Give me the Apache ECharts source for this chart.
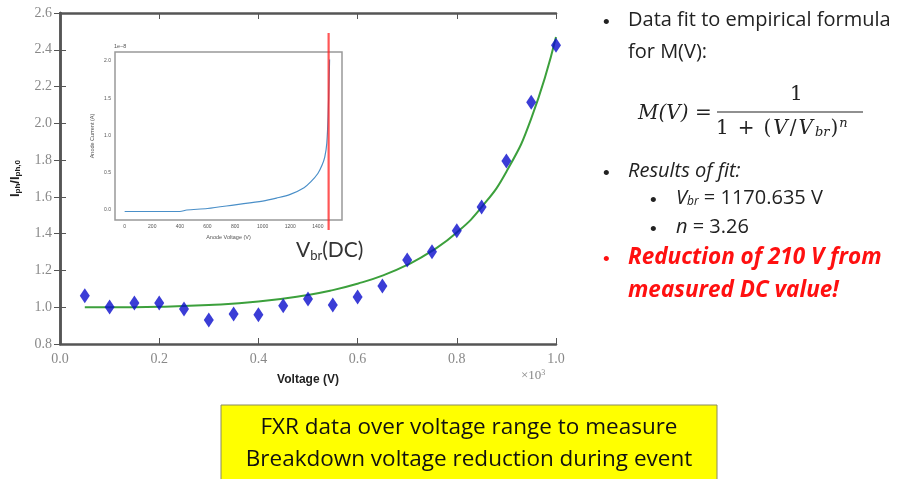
<!DOCTYPE html>
<html lang="en">
<head>
<meta charset="UTF-8">
<title>FXR breakdown voltage fit</title>
<script src="https://cdn.jsdelivr.net/npm/echarts@6/dist/echarts.min.js"></script>
<style>
    html, body { margin: 0; padding: 0; background: #fff; }
    #container { width: 907px; height: 479px; }
</style>
</head>
<body>
<div id="container"></div>
<script>
    // main plot: voltage in kV, normalised photocurrent
    var voltage = [0.05, 0.10, 0.15, 0.20, 0.25, 0.30, 0.35, 0.40, 0.45, 0.50,
                   0.55, 0.60, 0.65, 0.70, 0.75, 0.80, 0.85, 0.90, 0.95, 1.00];
    var ratio = [1.062, 1.001, 1.023, 1.023, 0.990, 0.930, 0.963, 0.959, 1.008, 1.045,
                 1.012, 1.055, 1.115, 1.257, 1.302, 1.416, 1.545, 1.795, 2.115, 2.425];

    // fitted curve
    var fitV = [0.05, 0.10, 0.20, 0.30, 0.40, 0.50, 0.55, 0.60, 0.65, 0.70,
                0.75, 0.80, 0.85, 0.90, 0.95, 1.00];
    var fitM = [1.000, 1.000, 1.003, 1.012, 1.031, 1.067, 1.093, 1.128, 1.172, 1.230,
                1.306, 1.406, 1.544, 1.737, 2.026, 2.470];

    // inset: anode current (x1e-8 A) vs anode voltage (V)
    var insetV = [0, 200, 400, 450, 600, 800, 1000, 1100, 1200, 1300,
                  1350, 1400, 1430, 1450, 1465, 1475, 1485];
    var insetI = [-0.02, -0.02, -0.02, 0.00, 0.02, 0.07, 0.12, 0.16, 0.21, 0.30,
                  0.38, 0.49, 0.60, 0.71, 0.90, 1.30, 2.02];
    var vbrDC = 1478;

    var insetXTicks = [0, 200, 400, 600, 800, 1000, 1200, 1400];
    var insetYTicks = [0, 0.5, 1.0, 1.5, 2.0];

    var mainData = voltage.map(function (v, i) { return [v, ratio[i]]; });
    var fitData = fitV.map(function (v, i) { return [v, fitM[i]]; });
    var insetData = insetV.map(function (v, i) { return [v, insetI[i]]; });

    var frame = { lineStyle: { color: '#555', width: 2.5 } };
    var serif = 'Liberation Serif';
    var math = 'DejaVu Serif';
    var sans = 'Open Sans';
    var bulletFont = '19px "Liberation Sans"';

    var dom = document.getElementById('container');
    var myChart = echarts.init(dom, null, { renderer: 'canvas' });

    var option = {
        animation: false,
        backgroundColor: '#fff',
        grid: [
            { left: 60, right: 351, top: 13, bottom: 135 },
            { left: 115, right: 565, top: 52, bottom: 259, show: true,
              backgroundColor: '#fff', borderColor: '#999', borderWidth: 1.5, z: 3 },
            { left: 115, right: 565, top: 33, bottom: 249, z: 5 }
        ],
        xAxis: [
            {
                gridIndex: 0, type: 'value', min: 0, max: 1, interval: 0.2,
                axisLine: frame,
                axisTick: { inside: true, length: 6, lineStyle: { color: '#555' } },
                axisLabel: { color: '#888', fontFamily: serif, fontSize: 14, margin: 8,
                    formatter: function (v) { return v.toFixed(1); } },
                splitLine: { show: false },
                name: 'Voltage (V)', nameLocation: 'middle', nameGap: 30,
                nameTextStyle: { fontFamily: 'Liberation Sans', fontWeight: 'bold', fontSize: 12, color: '#222' }
            },
            {
                gridIndex: 0, type: 'value', position: 'top', min: 0, max: 1, interval: 0.2,
                axisLine: frame,
                axisTick: { inside: true, length: 6, lineStyle: { color: '#555' } },
                axisLabel: { show: false }, splitLine: { show: false }
            },
            {
                gridIndex: 1, type: 'value', min: -70, max: 1575,
                axisLine: { show: false },
                axisTick: { length: 3, lineStyle: { color: '#777' }, customValues: insetXTicks },
                axisLabel: { color: '#555', fontSize: 5, margin: 4, customValues: insetXTicks,
                    formatter: function (v) { return String(v); } },
                splitLine: { show: false },
                name: 'Anode Voltage (V)', nameLocation: 'middle', nameGap: 14,
                nameTextStyle: { fontSize: 5.5, color: '#555' }
            },
            {
                gridIndex: 2, type: 'value', min: -70, max: 1575, show: false
            }
        ],
        yAxis: [
            {
                gridIndex: 0, type: 'value', min: 0.8, max: 2.6, interval: 0.2,
                axisLine: frame,
                axisTick: { inside: true, length: 6, lineStyle: { color: '#555' } },
                axisLabel: { color: '#888', fontFamily: serif, fontSize: 14, margin: 8,
                    formatter: function (v) { return v.toFixed(1); } },
                splitLine: { show: false },
                name: '{b|I}{s|ph}{b|/I}{s|ph,0}', nameLocation: 'middle', nameGap: 38, nameRotate: 90,
                nameTextStyle: {
                    rich: {
                        b: { fontFamily: 'Liberation Sans', fontWeight: 'bold', fontSize: 13, color: '#222' },
                        s: { fontFamily: 'Liberation Sans', fontWeight: 'bold', fontSize: 8, color: '#222', verticalAlign: 'bottom', padding: [6, 0, 0, 0] }
                    }
                }
            },
            {
                gridIndex: 0, type: 'value', position: 'right', min: 0.8, max: 2.6, interval: 0.2,
                axisLine: frame,
                axisTick: { inside: true, length: 6, lineStyle: { color: '#555' } },
                axisLabel: { show: false }, splitLine: { show: false }
            },
            {
                gridIndex: 1, type: 'value', min: -0.134, max: 2.12,
                axisLine: { show: false },
                axisTick: { length: 3, lineStyle: { color: '#777' }, customValues: insetYTicks },
                axisLabel: { color: '#555', fontSize: 5, margin: 4, customValues: insetYTicks,
                    formatter: function (v) { return v.toFixed(1); } },
                splitLine: { show: false },
                name: 'Anode Current (A)', nameLocation: 'middle', nameGap: 20, nameRotate: 90,
                nameTextStyle: { fontSize: 5.5, color: '#555' }
            },
            {
                gridIndex: 2, type: 'value', min: 0, max: 1, show: false
            }
        ],
        series: [
            {
                type: 'line', xAxisIndex: 0, yAxisIndex: 0, data: fitData,
                smooth: true, showSymbol: false, z: 2,
                lineStyle: { color: '#3ca03c', width: 2 }
            },
            {
                type: 'scatter', xAxisIndex: 0, yAxisIndex: 0, data: mainData,
                symbol: 'diamond', symbolSize: [10, 15], z: 3,
                itemStyle: { color: '#0a0ccc' }
            },
            {
                type: 'line', xAxisIndex: 2, yAxisIndex: 2, data: insetData,
                smooth: 0.3, showSymbol: false, z: 4,
                lineStyle: { color: '#4a8fc8', width: 1.2 }
            },
            {
                type: 'line', xAxisIndex: 3, yAxisIndex: 3, data: [[vbrDC, 0], [vbrDC, 1]],
                showSymbol: false, z: 6,
                lineStyle: { color: 'rgba(255,30,30,0.75)', width: 2.2 }
            }
        ],
        graphic: [
            // annotations on the plot
            { type: 'text', left: 114, top: 43, z: 10,
              style: { text: '1e\u22128', fontSize: 5.5, fill: '#555' } },
            { type: 'text', left: 521, top: 369, z: 10,
              style: { text: '\u00d710{p|3}', font: '13px "Liberation Serif"', fill: '#888',
                       rich: { p: { fontSize: 8, fontFamily: serif, fill: '#888', verticalAlign: 'top' } } } },
            { type: 'text', left: 296, top: 240, z: 10,
              style: { text: '{a|V}{s|br}{a|(DC)}', rich: {
                  a: { fontFamily: 'Lato', fontSize: 21, fill: '#333' },
                  s: { fontFamily: 'Lato', fontSize: 13, fill: '#333', padding: [10, 0, 0, 0] } } } },

            // right-hand notes
            { type: 'text', left: 603, top: 13, style: { text: '\u2022', font: bulletFont, fill: '#222' } },
            { type: 'text', left: 628, top: 10, style: { text: 'Data fit to empirical formula', font: '20px "Open Sans"', fill: '#222' } },
            { type: 'text', left: 628, top: 42, style: { text: 'for M(V):', font: '20px "Open Sans"', fill: '#222' } },

            { type: 'text', left: 638, top: 104, style: { text: 'M(V) =', font: 'italic 20px "DejaVu Serif"', fill: '#222' } },
            { type: 'text', left: 790, top: 85, style: { text: '1', font: '20px "DejaVu Serif"', fill: '#222' } },
            { type: 'line', shape: { x1: 717, y1: 112, x2: 863, y2: 112 }, style: { stroke: '#222', lineWidth: 1.2 } },
            { type: 'text', left: 716, top: 117, style: { text: '{r|1}{o|+}{r|(}{i|V}{r|/}{i|V}{s|br}{r|)}{p|n}', rich: {
                  r: { fontFamily: math, fontSize: 20, fill: '#222' },
                  o: { fontFamily: math, fontSize: 20, fill: '#222', padding: [0, 9, 0, 9] },
                  i: { fontFamily: math, fontStyle: 'italic', fontSize: 20, fill: '#222', padding: [0, 2, 0, 2] },
                  s: { fontFamily: math, fontStyle: 'italic', fontSize: 13, fill: '#222', padding: [9, 1, 0, 0] },
                  p: { fontFamily: math, fontStyle: 'italic', fontSize: 13, fill: '#222', padding: [0, 0, 10, 1] } } } },

            { type: 'text', left: 603, top: 164, style: { text: '\u2022', font: bulletFont, fill: '#222' } },
            { type: 'text', left: 628, top: 161, style: { text: 'Results of fit:', font: 'italic 20px "Open Sans"', fill: '#222' } },
            { type: 'text', left: 650, top: 191, style: { text: '\u2022', font: bulletFont, fill: '#222' } },
            { type: 'text', left: 676, top: 188, style: { text: '{i|V}{s|br}{r| = 1170.635 V}', rich: {
                  i: { fontFamily: sans, fontStyle: 'italic', fontSize: 20, fill: '#222' },
                  s: { fontFamily: sans, fontStyle: 'italic', fontSize: 12, fill: '#222', padding: [8, 0, 0, 0] },
                  r: { fontFamily: sans, fontSize: 20, fill: '#222' } } } },
            { type: 'text', left: 650, top: 220, style: { text: '\u2022', font: bulletFont, fill: '#222' } },
            { type: 'text', left: 676, top: 217, style: { text: '{i|n}{r| = 3.26}', rich: {
                  i: { fontFamily: sans, fontStyle: 'italic', fontSize: 20, fill: '#222' },
                  r: { fontFamily: sans, fontSize: 20, fill: '#222' } } } },
            { type: 'text', left: 603, top: 250, style: { text: '\u2022', font: bulletFont, fill: '#ff1010' } },
            { type: 'text', left: 628, top: 246, style: { text: 'Reduction of 210 V from', font: 'italic bold 22.5px "Open Sans"', fill: '#ff1010' } },
            { type: 'text', left: 628, top: 279, style: { text: 'measured DC value!', font: 'italic bold 22.5px "Open Sans"', fill: '#ff1010' } },

            // caption box
            { type: 'rect', shape: { x: 221, y: 405, width: 496, height: 80 },
              style: { fill: '#ffff00', stroke: '#8a8a60', lineWidth: 1 } },
            { type: 'text', x: 469, y: 428, style: { text: 'FXR data over voltage range to measure', font: '22.5px "Open Sans"', fill: '#111', align: 'center', verticalAlign: 'middle' } },
            { type: 'text', x: 469, y: 460, style: { text: 'Breakdown voltage reduction during event', font: '22.5px "Open Sans"', fill: '#111', align: 'center', verticalAlign: 'middle' } }
        ]
    };

    myChart.setOption(option, true);
</script>
</body>
</html>
